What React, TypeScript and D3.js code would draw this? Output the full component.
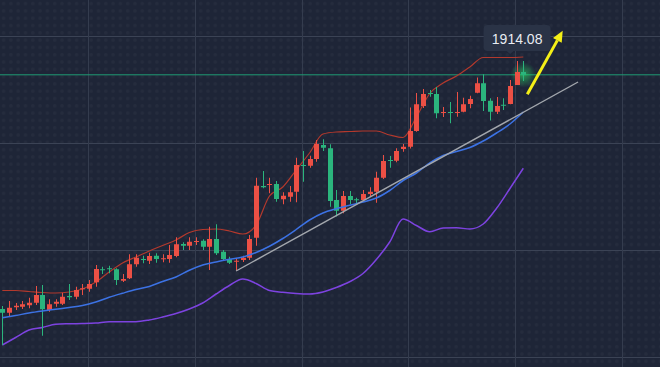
import React from 'react';
import * as d3 from 'd3';

// candles, one per bar (red = up, green = down)
const opens = [
  1820.4, 1818.9, 1821.1, 1821.3, 1821.9, 1822.9, 1826.0, 1820.0, 1822.5, 1822.5,
  1825.6, 1825.3, 1828.3, 1828.5, 1831.1, 1836.3, 1836.7, 1836.3, 1831.7, 1832.7,
  1838.3, 1840.4, 1839.7, 1841.7, 1840.4, 1840.4, 1841.6, 1846.4, 1845.7, 1847.3,
  1847.7, 1845.3, 1848.4, 1843.3, 1840.3, 1839.3, 1840.0, 1840.9, 1848.9, 1869.6,
  1870.0, 1870.4, 1864.3, 1865.3, 1867.3, 1878.0, 1877.7, 1880.4, 1886.0, 1884.7,
  1864.0, 1859.7, 1865.6, 1864.3, 1864.0, 1866.4, 1867.3, 1872.9, 1880.0, 1879.7,
  1884.4, 1885.3, 1891.6, 1901.6, 1906.8, 1906.4, 1899.0, 1899.2, 1899.0, 1899.3,
  1902.4, 1906.9, 1910.7, 1903.7, 1899.3, 1902.1, 1902.4, 1910.0, 1915.2,
];
const closes = [
  1818.9, 1820.9, 1821.7, 1822.3, 1822.9, 1826.0, 1820.3, 1822.3, 1823.3, 1825.3,
  1825.1, 1828.0, 1828.7, 1830.4, 1836.4, 1836.0, 1836.3, 1832.0, 1832.4, 1838.3,
  1840.9, 1840.0, 1841.6, 1840.4, 1840.7, 1842.0, 1846.3, 1845.7, 1847.3, 1847.6,
  1845.3, 1848.4, 1842.7, 1840.4, 1838.9, 1839.7, 1840.9, 1848.4, 1869.7, 1869.1,
  1870.4, 1864.4, 1865.7, 1867.1, 1878.0, 1877.7, 1880.4, 1886.4, 1884.9, 1863.6,
  1859.7, 1865.6, 1864.0, 1864.0, 1866.4, 1867.3, 1872.9, 1879.6, 1879.6, 1883.6,
  1885.3, 1891.6, 1902.3, 1906.4, 1906.4, 1898.7, 1899.2, 1899.0, 1899.2, 1902.3,
  1904.4, 1910.7, 1903.6, 1899.3, 1901.6, 1901.9, 1909.6, 1915.2, 1914.08,
];
const highs = [
  1821.6, 1823.6, 1822.8, 1823.6, 1824.9, 1829.6, 1830.0, 1824.3, 1824.3, 1826.9,
  1830.4, 1829.3, 1830.4, 1832.0, 1838.0, 1837.3, 1837.7, 1836.7, 1834.4, 1842.3,
  1842.3, 1841.7, 1842.9, 1842.7, 1842.3, 1846.0, 1849.1, 1847.1, 1849.1, 1849.1,
  1848.3, 1853.3, 1854.3, 1844.0, 1841.3, 1840.6, 1841.7, 1850.0, 1872.9, 1875.6,
  1872.9, 1871.6, 1867.1, 1869.6, 1880.9, 1883.6, 1881.7, 1888.0, 1888.3, 1886.3,
  1868.0, 1867.6, 1867.6, 1864.9, 1868.0, 1869.1, 1875.3, 1882.0, 1881.6, 1884.7,
  1886.4, 1901.0, 1906.8, 1908.4, 1908.0, 1909.2, 1901.2, 1903.2, 1907.2, 1904.9,
  1905.7, 1913.0, 1914.3, 1904.7, 1905.2, 1904.7, 1912.0, 1919.6, 1919.6,
];
const lows = [
  1806.0, 1817.3, 1820.0, 1820.4, 1820.7, 1822.0, 1809.7, 1819.3, 1821.3, 1822.0,
  1824.0, 1824.3, 1826.0, 1827.3, 1829.3, 1834.4, 1834.7, 1830.0, 1831.2, 1832.4,
  1837.3, 1838.7, 1838.4, 1838.9, 1839.1, 1838.9, 1841.1, 1844.0, 1844.0, 1846.0,
  1844.0, 1836.0, 1842.0, 1839.6, 1838.4, 1835.6, 1839.2, 1840.0, 1845.7, 1868.7,
  1866.7, 1863.3, 1862.3, 1863.3, 1863.1, 1871.3, 1876.9, 1879.3, 1883.6, 1861.3,
  1857.4, 1858.7, 1862.4, 1862.4, 1863.7, 1865.3, 1862.9, 1872.4, 1876.9, 1879.1,
  1883.3, 1884.6, 1891.3, 1900.8, 1905.3, 1896.7, 1897.2, 1894.7, 1897.3, 1899.1,
  1900.7, 1906.7, 1899.6, 1895.8, 1898.4, 1900.0, 1902.3, 1910.0, 1911.6,
];

// bollinger bands, read every second bar
const bandStep = 2;
const upperBand = [
  1827.8, 1827.8, 1827.4, 1827.0, 1826.8, 1827.2, 1828.4, 1831.2, 1835.2, 1838.8,
  1841.2, 1843.6, 1845.8, 1848.0, 1851.0, 1852.2, 1852.4, 1851.6, 1850.4, 1854.0,
  1865.6, 1869.2, 1876.0, 1882.8, 1890.4, 1891.2, 1891.4, 1891.6, 1891.6, 1890.0,
  1889.0, 1897.2, 1906.6, 1910.8, 1913.6, 1917.2, 1921.0, 1921.0, 1921.0, 1921.2,
];
const midBand = [
  1816.9, 1817.8, 1818.8, 1819.6, 1820.3, 1821.0, 1821.8, 1823.2, 1825.1, 1826.7,
  1828.2, 1829.4, 1831.4, 1833.2, 1835.9, 1838.0, 1839.2, 1840.3, 1841.2, 1843.0,
  1845.5, 1848.6, 1852.2, 1856.0, 1858.8, 1860.5, 1861.9, 1863.2, 1864.8, 1867.8,
  1871.8, 1874.8, 1878.8, 1881.8, 1883.4, 1885.0, 1887.6, 1890.8, 1894.4, 1899.2,
];
const lowerBand = [
  1806.0, 1809.0, 1812.0, 1813.0, 1814.3, 1814.5, 1814.6, 1814.8, 1815.3, 1815.3,
  1815.3, 1816.0, 1817.2, 1818.6, 1820.4, 1822.8, 1826.4, 1829.8, 1832.4, 1830.6,
  1827.8, 1827.1, 1826.6, 1826.4, 1827.2, 1829.0, 1831.3, 1834.6, 1840.2, 1847.2,
  1856.4, 1853.8, 1851.3, 1852.8, 1852.9, 1852.4, 1854.4, 1860.7, 1868.6, 1876.7,
];

const lastPrice = 1914.08;
const gridPrices = [1929.6, 1886.8, 1844.0, 1801.2];
const gridBars = [12.8, 28.8, 44.8, 60.8, 76.8, 92.8];
// [bar, price]
const trendLine = [[35, 1835.6], [86.2, 1911.2]];
const arrowLine = [[78.6, 1906.3], [83.9, 1931.7]];

const W = 660;
const H = 367;
const UP = '#ec5045';
const DOWN = '#2bb57d';

export default function App() {
  const x = d3.scaleLinear().domain([0, 78]).range([2.3, 523.3]);
  const y = d3.scaleLinear().domain([1944, 1797.2]).range([0, H]);

  const band = d3.line<number>()
    .x((d, k) => x(k * bandStep))
    .y((d) => y(d))
    .curve(d3.curveMonotoneX);

  // arrow head
  const [a0, a1] = arrowLine;
  const ax0 = x(a0[0]), ay0 = y(a0[1]), ax1 = x(a1[0]), ay1 = y(a1[1]);
  const len = Math.hypot(ax1 - ax0, ay1 - ay0);
  const ux = (ax1 - ax0) / len, uy = (ay1 - ay0) / len;
  const bx = ax1 - ux * 11, by = ay1 - uy * 11;
  const head = `${ax1},${ay1} ${bx - uy * 5},${by + ux * 5} ${bx + uy * 5},${by - ux * 5}`;

  const last = opens.length - 1;
  const lx = x(last - 1);
  const ly = y(highs[last - 1]) - 36;

  return (
    <div style={{ position: 'fixed', left: 0, top: 0 }}>
      <svg width={W} height={H} style={{ display: 'block' }}>
        <defs>
          <pattern id="dots" width={7.3} height={7.3} patternUnits="userSpaceOnUse">
            <circle cx={3.6} cy={3.6} r={1.7} fill="#ffffff" fillOpacity={0.03} />
          </pattern>
          <radialGradient id="glow">
            <stop offset="0%" stopColor="#2ee86a" stopOpacity={0.6} />
            <stop offset="100%" stopColor="#2ee86a" stopOpacity={0} />
          </radialGradient>
        </defs>
        <rect width={W} height={H} fill="#1e2537" />
        <rect width={W} height={H} fill="url(#dots)" />

        {gridPrices.map((p) => (
          <line key={`h${p}`} x1={0} x2={W} y1={Math.round(y(p)) + 0.5} y2={Math.round(y(p)) + 0.5}
            stroke="#3b4355" strokeWidth={1} />
        ))}
        {gridBars.map((b) => (
          <line key={`v${b}`} y1={0} y2={H} x1={Math.round(x(b)) + 0.5} x2={Math.round(x(b)) + 0.5}
            stroke="#343c4e" strokeWidth={1} />
        ))}

        <line x1={0} x2={W} y1={y(lastPrice)} y2={y(lastPrice)} stroke="#1f9a74" strokeWidth={1} />

        <path d={band(upperBand) || ''} fill="none" stroke="#b3392d" strokeWidth={1.2} />
        <path d={band(lowerBand) || ''} fill="none" stroke="#7d43e0" strokeWidth={1.5} />

        <circle cx={x(last)} cy={y(lastPrice)} r={13} fill="url(#glow)" />

        {opens.map((o, i) => {
          const c = closes[i];
          const col = c >= o ? UP : DOWN;
          const cx = Math.round(x(i));
          const top = y(Math.max(o, c));
          const h = Math.max(1, Math.abs(y(o) - y(c)));
          return (
            <g key={i}>
              <line x1={cx + 0.5} x2={cx + 0.5} y1={y(highs[i])} y2={y(lows[i])} stroke={col} strokeWidth={1} />
              <rect x={cx - 2} y={top} width={5} height={h} fill={col} />
            </g>
          );
        })}

        <path d={band(midBand) || ''} fill="none" stroke="#3c72e4" strokeWidth={1.5} />
        <line x1={x(trendLine[0][0])} y1={y(trendLine[0][1])} x2={x(trendLine[1][0])} y2={y(trendLine[1][1])}
          stroke="#a3a7ad" strokeWidth={1.4} />

        <line x1={ax0} y1={ay0} x2={bx} y2={by} stroke="#f4ef17" strokeWidth={3} />
        <polygon points={head} fill="#f4ef17" />

        <g>
          <rect x={lx - 33} y={ly} width={67} height={26} rx={4} fill="#2a3346" />
          <polygon points={`${lx - 10},${ly + 26} ${lx - 3},${ly + 26} ${lx - 6.5},${ly + 29}`} fill="#2a3346" />
          <text x={lx + 0.5} y={ly + 18.5} textAnchor="middle" fontSize={14}
            fontFamily="'Liberation Sans', Arial, sans-serif" fill="#e8ecf2">
            {lastPrice.toFixed(2)}
          </text>
        </g>
      </svg>
    </div>
  );
}
